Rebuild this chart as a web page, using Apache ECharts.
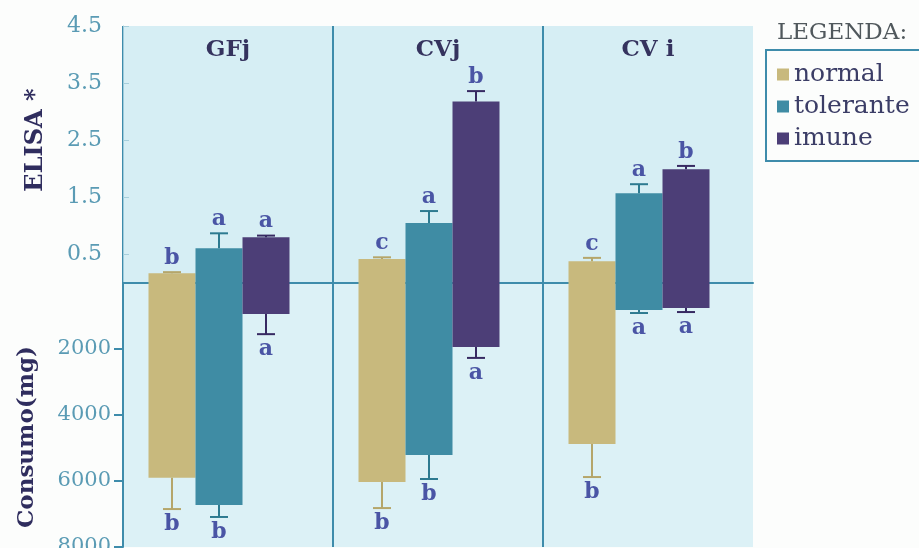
<!DOCTYPE html>
<html>
<head>
<meta charset="utf-8">
<title>ELISA e Consumo</title>
<script src="https://cdn.jsdelivr.net/npm/echarts@6/dist/echarts.min.js"></script>
<style>
  html, body { margin: 0; padding: 0; background: #fcfdfc; }
  #chart { width: 919px; height: 548px; }
</style>
</head>
<body>
<div id="chart"></div>
<script>
// Grupos experimentais e tratamentos
const categories = ['GFj', 'CVj', 'CV i'];
const groupNames = ['normal', 'tolerante', 'imune'];

// ELISA (média e limite superior do erro)
const elisaNormal = [0.17, 0.42, 0.38];
const elisaNormalErr = [0.19, 0.45, 0.44];
const elisaTolerante = [0.61, 1.05, 1.57];
const elisaToleranteErr = [0.87, 1.26, 1.73];
const elisaImune = [0.80, 3.18, 1.99];
const elisaImuneErr = [0.83, 3.36, 2.05];

// Consumo em mg (média e limite do erro)
const consumoNormal = [5900, 6030, 4880];
const consumoNormalErr = [6850, 6820, 5880];
const consumoTolerante = [6730, 5210, 820];
const consumoToleranteErr = [7090, 5940, 910];
const consumoImune = [940, 1940, 760];
const consumoImuneErr = [1550, 2270, 880];

// Letras de significância
const elisaLetters = [['b', 'c', 'c'], ['a', 'a', 'a'], ['a', 'b', 'b']];
const consumoLetters = [['b', 'b', 'b'], ['b', 'b', 'a'], ['a', 'a', 'a']];

// Eixos
const elisaTicks = [0.5, 1.5, 2.5, 3.5, 4.5];
const consumoTicks = [2000, 4000, 6000, 8000];

const barColors = ['#c8b97d', '#3f8ca4', '#4c3e77'];
const errColors = ['#b5a66a', '#2d7a90', '#372a62'];
const lineBlue = '#3e8cab';
const tickText = '#5a9bb4';
const serif = 'DejaVu Serif';

const BAR_W = 47;
const SPACER_W = 18;
const groupTotal = BAR_W * 3 + SPACER_W;
function barOffset(g) { return -groupTotal / 2 + BAR_W * (g + 0.5); }

const elisaSets = [[elisaNormal, elisaNormalErr], [elisaTolerante, elisaToleranteErr], [elisaImune, elisaImuneErr]];
const consumoSets = [[consumoNormal, consumoNormalErr], [consumoTolerante, consumoToleranteErr], [consumoImune, consumoImuneErr]];

const series = [];

function addPanel(sets, letters, axisIdx, upward) {
  sets.forEach(function (pair, g) {
    series.push({
      name: groupNames[g],
      type: 'bar',
      xAxisIndex: axisIdx,
      yAxisIndex: axisIdx,
      barWidth: BAR_W,
      barGap: '0%',
      itemStyle: { color: barColors[g] },
      data: pair[0]
    });
  });
  series.push({
    name: 'spacer',
    type: 'bar',
    xAxisIndex: axisIdx,
    yAxisIndex: axisIdx,
    barWidth: SPACER_W,
    barGap: '0%',
    silent: true,
    data: ['-', '-', '-']
  });
  sets.forEach(function (pair, g) {
    series.push({
      type: 'custom',
      xAxisIndex: axisIdx,
      yAxisIndex: axisIdx,
      z: 5,
      silent: true,
      data: pair[0].map(function (v, i) { return [i, v, pair[1][i]]; }),
      renderItem: function (params, api) {
        const base = api.coord([api.value(0), api.value(1)]);
        const end = api.coord([api.value(0), api.value(2)]);
        const x = base[0] + barOffset(g);
        const letter = letters[g][params.dataIndex];
        const stroke = { stroke: errColors[g], lineWidth: 2 };
        return {
          type: 'group',
          children: [
            { type: 'line', shape: { x1: x, y1: base[1], x2: x, y2: end[1] }, style: stroke },
            { type: 'line', shape: { x1: x - 9, y1: end[1], x2: x + 9, y2: end[1] }, style: stroke },
            {
              type: 'text',
              style: {
                text: letter,
                x: x,
                y: upward ? end[1] - 3 : end[1] + 4,
                align: 'center',
                verticalAlign: upward ? 'bottom' : 'top',
                fontFamily: serif,
                fontSize: 22,
                fontWeight: 'bold',
                fill: '#4a55a5'
              }
            }
          ]
        };
      }
    });
  });
}

addPanel(elisaSets, elisaLetters, 0, true);
addPanel(consumoSets, consumoLetters, 1, false);

const splitColors = [lineBlue, lineBlue, lineBlue, 'rgba(0,0,0,0)'];

const option = {
  animation: false,
  backgroundColor: '#fcfdfc',
  grid: [
    { left: 123, width: 630, top: 26, height: 257, show: true, backgroundColor: '#d6eef4', borderWidth: 0, outerBoundsMode: 'none' },
    { left: 123, width: 630, top: 283, height: 264, show: true, backgroundColor: '#dcf1f6', borderWidth: 0, outerBoundsMode: 'none' }
  ],
  xAxis: [
    {
      gridIndex: 0,
      type: 'category',
      data: categories,
      position: 'top',
      axisLine: { show: false },
      axisTick: { show: false },
      axisLabel: {
        inside: true,
        margin: 13,
        fontFamily: serif,
        fontWeight: 'bold',
        fontSize: 23,
        color: '#35335e'
      },
      splitLine: { show: true, lineStyle: { color: splitColors, width: 2 } }
    },
    {
      gridIndex: 1,
      type: 'category',
      data: categories,
      position: 'top',
      axisLine: { show: true, lineStyle: { color: lineBlue, width: 2 } },
      axisTick: { show: false },
      axisLabel: { show: false },
      splitLine: { show: true, lineStyle: { color: splitColors, width: 2 } }
    }
  ],
  yAxis: [
    {
      gridIndex: 0,
      type: 'value',
      min: 0,
      max: 4.5,
      interval: 0.5,
      axisLine: { show: true, lineStyle: { color: '#9fcbdb', width: 1 } },
      axisTick: { show: true, inside: true, length: 6, customValues: elisaTicks, lineStyle: { color: '#a6cfdc', width: 1 } },
      splitLine: { show: false },
      axisLabel: {
        margin: 21,
        fontFamily: serif,
        fontSize: 22,
        color: tickText,
        customValues: elisaTicks,
        formatter: function (v) { return v.toFixed(1); }
      }
    },
    {
      gridIndex: 1,
      type: 'value',
      inverse: true,
      min: 0,
      max: 8000,
      interval: 2000,
      axisLine: { show: true, lineStyle: { color: lineBlue, width: 2 } },
      axisTick: { show: true, length: 9, customValues: consumoTicks, lineStyle: { color: lineBlue, width: 2 } },
      splitLine: { show: false },
      axisLabel: {
        margin: 12,
        fontFamily: serif,
        fontSize: 21,
        color: tickText,
        customValues: consumoTicks,
        formatter: function (v) { return String(v); }
      }
    }
  ],
  legend: {
    data: groupNames,
    orient: 'vertical',
    left: 766,
    top: 50,
    padding: [12, 80, 10, 11],
    borderColor: lineBlue,
    borderWidth: 2,
    itemWidth: 12,
    itemHeight: 12,
    itemGap: 7,
    icon: 'rect',
    textStyle: { fontFamily: serif, fontSize: 25, color: '#3b3d66', lineHeight: 23 }
  },
  graphic: [
    {
      type: 'text',
      left: 777,
      top: 22,
      style: { text: 'LEGENDA:', fontFamily: serif, fontSize: 23, fill: '#50585c' }
    },
    {
      type: 'text',
      x: 36,
      y: 140,
      rotation: Math.PI / 2,
      style: {
        text: 'ELISA *',
        align: 'center',
        verticalAlign: 'middle',
        fontFamily: serif,
        fontWeight: 'bold',
        fontSize: 24,
        fill: '#2f2d5e'
      }
    },
    {
      type: 'text',
      x: 27,
      y: 437,
      rotation: Math.PI / 2,
      style: {
        text: 'Consumo(mg)',
        align: 'center',
        verticalAlign: 'middle',
        fontFamily: serif,
        fontWeight: 'bold',
        fontSize: 23,
        fill: '#2f2d5e'
      }
    }
  ],
  series: series
};

echarts.init(document.getElementById('chart')).setOption(option);
</script>
</body>
</html>
